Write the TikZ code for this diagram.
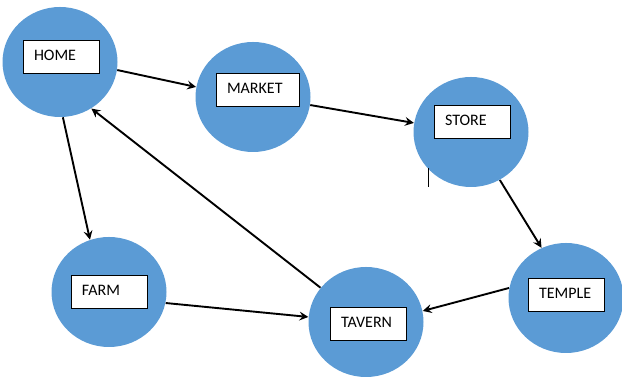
\documentclass[tikz,border=0pt]{standalone}
\usepackage{fontspec}
\setmainfont{Carlito}
\usetikzlibrary{shapes.geometric}
\definecolor{placeblue}{HTML}{5B9BD5}
\tikzset{
    place/.style={ellipse, fill=placeblue, minimum width=57.5pt, minimum height=55pt, inner sep=0pt},
    tag/.style={draw, line width=.5pt, fill=white, text width=27pt, minimum height=16.5pt,
        inner xsep=5.5pt, inner ysep=0pt, text depth=2pt, align=left, font=\fontsize{8}{9}\selectfont},
    link/.style={->, line width=.95pt}
}
\begin{document}
\begin{tikzpicture}[>=stealth, x=.5pt, y=-.5pt]
\useasboundingbox (0,0) rectangle (622,378);
\node[place] (home) at (60,62) {};
\node[place] (market) at (253,97) {};
\node[place] (store) at (471,132) {};
\node[place] (farm) at (109,292) {};
\node[place] (tavern) at (366,322) {};
\node[place] (temple) at (566,298) {};

\node[tag] (homebox) at (61,57.5) {HOME};
\node[tag, text width=30.5pt] (marketbox) at (257.5,90.5) {MARKET};
\node[tag] (storebox) at (472,122.5) {STORE};
\node[tag] (farmbox) at (109,292.5) {FARM};
\node[tag] (tavernbox) at (368,324) {TAVERN};
\node[tag] (templebox) at (566,295.5) {TEMPLE};

% the roads
\draw[link](home.-8)--(market.170);
\draw[link](market.-8.5)--(store.171);
\draw[link](store.-59)--(temple.116);
\draw[link](temple.170)--(tavern.11);
\draw[link](farm.-11)--(tavern.175);
\draw[link](tavern.143)--(home.-56);
\draw[link](home.-87)--(farm.110);

\draw[line width=.4pt](428,168)--(428,187);
\end{tikzpicture}
\end{document}
